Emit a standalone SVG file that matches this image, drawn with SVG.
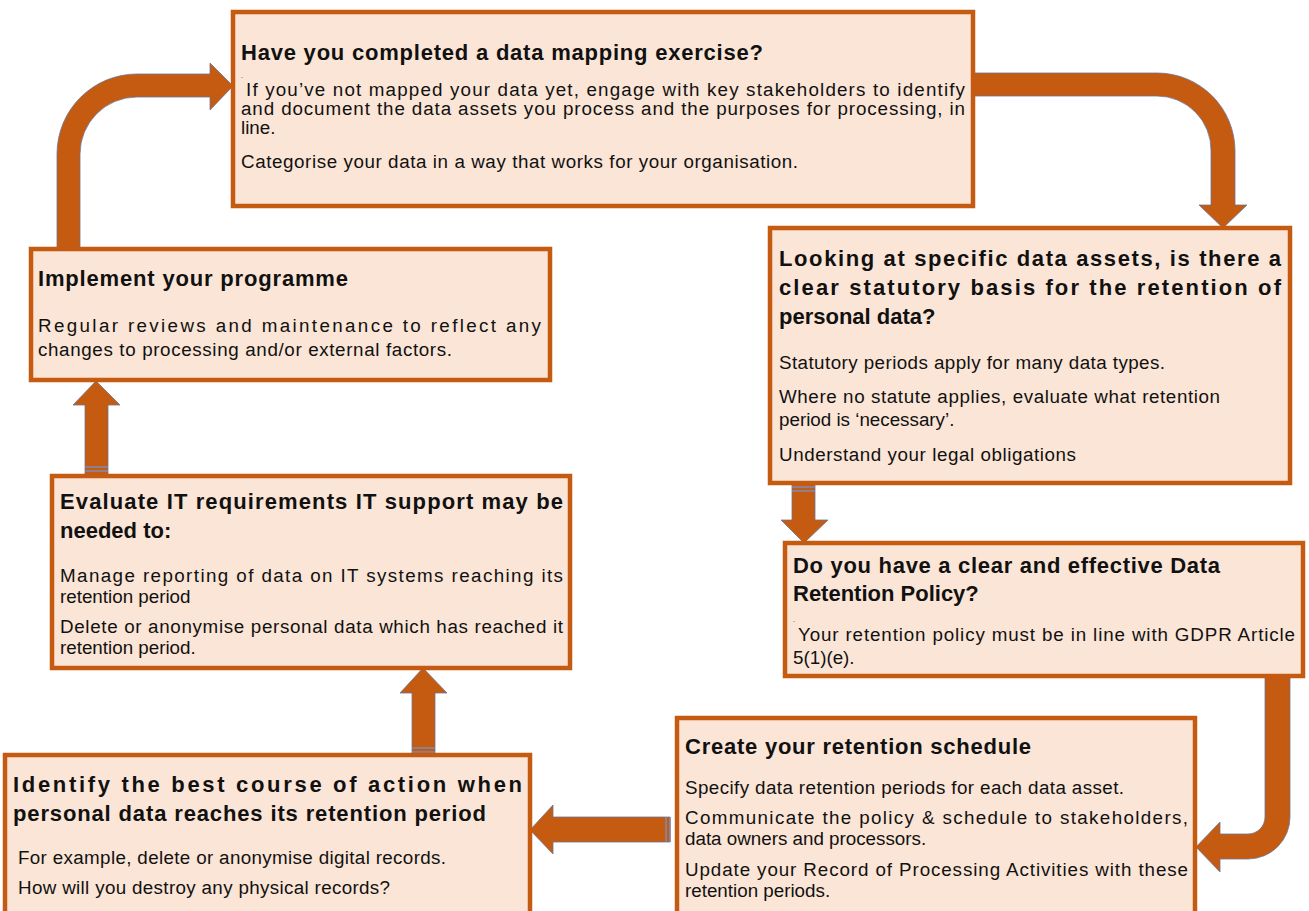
<svg xmlns="http://www.w3.org/2000/svg" width="1309" height="911" viewBox="0 0 1309 911">
<style>
.box{fill:#FBE5D6;stroke:#C55A11;stroke-width:4.5}
.arr{fill:#C55A11;stroke:#6C7394;stroke-width:0.8;stroke-linejoin:miter}
.stripe{stroke:#7F8AAE;stroke-width:1.6}
.t{font-family:"Liberation Sans",Arial,sans-serif;fill:#111}
.h{font-size:22px;font-weight:bold}
.b{font-size:18.8px}
</style>
<rect width="1309" height="911" fill="#ffffff"/>
<g id="connectors">
<path class="arr" d="M57,250 L57,154 A80,80 0 0 1 137,74 L210,74 L210,63 L233,86 L210,110 L210,97 L137,97 A57,57 0 0 0 80,154 L80,250 Z"/>
<path class="arr" d="M973,73 L1157,73 A78,78 0 0 1 1235,151 L1235,205 L1247,205 L1223,228 L1199,205 L1211,205 L1211,151 A54,54 0 0 0 1157,96 L973,96 Z"/>
<path class="arr" d="M792,483 L815,483 L815,520 L828,520 L804,543 L781,520 L792,520 Z"/>
<line class="stripe" x1="792" y1="487" x2="815" y2="487"/>
<line class="stripe" x1="792" y1="491" x2="815" y2="491"/>
<path class="arr" d="M1265,676 L1290,676 L1290,817 A42,42 0 0 1 1248,859 L1220,859 L1220,872 L1196,847 L1220,822 L1220,834 L1248,834 A17,17 0 0 0 1265,817 Z"/>
<path class="arr" d="M670,817 L670,842 L553,842 L553,854 L530,830 L553,805 L553,817 Z"/>
<line class="stripe" x1="666" y1="817" x2="666" y2="842"/>
<line class="stripe" x1="670" y1="817" x2="670" y2="842"/>
<path class="arr" d="M412,755 L435,755 L435,693 L447,693 L423,668 L400,693 L412,693 Z"/>
<line class="stripe" x1="412" y1="748" x2="435" y2="748"/>
<line class="stripe" x1="412" y1="752" x2="435" y2="752"/>
<path class="arr" d="M85,476 L108,476 L108,405 L120,405 L96,381 L73,405 L85,405 Z"/>
<line class="stripe" x1="85" y1="467" x2="108" y2="467"/>
<line class="stripe" x1="85" y1="471" x2="108" y2="471"/>
</g>
<g id="node-mapping">
<rect class="box" x="233" y="12" width="740" height="194"/>
<text class="t h" x="241" y="60" textLength="522" lengthAdjust="spacing">Have you completed a data mapping exercise?</text>
<text class="t" x="241" y="78" font-size="7">.</text>
<text class="t b" x="246" y="96" textLength="719" lengthAdjust="spacing">If you’ve not mapped your data yet, engage with key stakeholders to identify</text>
<text class="t b" x="241" y="115" textLength="724" lengthAdjust="spacing">and document the data assets you process and the purposes for processing, in</text>
<text class="t b" x="241" y="134">line.</text>
<text class="t b" x="241" y="168" textLength="557" lengthAdjust="spacing">Categorise your data in a way that works for your organisation.</text>
</g>
<g id="node-statutory">
<rect class="box" x="770" y="228" width="520" height="255"/>
<text class="t h" x="779" y="266" textLength="502" lengthAdjust="spacing">Looking at specific data assets, is there a</text>
<text class="t h" x="779" y="295" textLength="502" lengthAdjust="spacing">clear statutory basis for the retention of</text>
<text class="t h" x="779" y="324">personal data?</text>
<text class="t b" x="779" y="369" textLength="386" lengthAdjust="spacing">Statutory periods apply for many data types.</text>
<text class="t b" x="779" y="403" textLength="441" lengthAdjust="spacing">Where no statute applies, evaluate what retention</text>
<text class="t b" x="779" y="426">period is ‘necessary’.</text>
<text class="t b" x="779" y="461" textLength="297" lengthAdjust="spacing">Understand your legal obligations</text>
</g>
<g id="node-policy">
<rect class="box" x="785" y="543" width="518" height="133"/>
<text class="t h" x="793" y="573" textLength="427" lengthAdjust="spacing">Do you have a clear and effective Data</text>
<text class="t h" x="793" y="601">Retention Policy?</text>
<text class="t" x="793" y="622" font-size="7">.</text>
<text class="t b" x="798" y="641" textLength="497" lengthAdjust="spacing">Your retention policy must be in line with GDPR Article</text>
<text class="t b" x="793" y="664">5(1)(e).</text>
</g>
<g id="node-schedule">
<rect class="box" x="677" y="718" width="518" height="200"/>
<text class="t h" x="685" y="754" textLength="346" lengthAdjust="spacing">Create your retention schedule</text>
<text class="t b" x="685" y="794" textLength="439" lengthAdjust="spacing">Specify data retention periods for each data asset.</text>
<text class="t b" x="685" y="824" textLength="503" lengthAdjust="spacing">Communicate the policy &amp; schedule to stakeholders,</text>
<text class="t b" x="685" y="845">data owners and processors.</text>
<text class="t b" x="685" y="876" textLength="503" lengthAdjust="spacing">Update your Record of Processing Activities with these</text>
<text class="t b" x="685" y="897">retention periods.</text>
</g>
<g id="node-action">
<rect class="box" x="5" y="755" width="525" height="163"/>
<text class="t h" x="13" y="792" textLength="509" lengthAdjust="spacing">Identify the best course of action when</text>
<text class="t h" x="13" y="821" textLength="473" lengthAdjust="spacing">personal data reaches its retention period</text>
<text class="t b" x="18" y="864" textLength="428" lengthAdjust="spacing">For example, delete or anonymise digital records.</text>
<text class="t b" x="18" y="894" textLength="372" lengthAdjust="spacing">How will you destroy any physical records?</text>
</g>
<g id="node-it">
<rect class="box" x="52" y="476" width="518" height="192"/>
<text class="t h" x="60" y="509" textLength="503" lengthAdjust="spacing">Evaluate IT requirements IT support may be</text>
<text class="t h" x="60" y="538">needed to:</text>
<text class="t b" x="60" y="582" textLength="503" lengthAdjust="spacing">Manage reporting of data on IT systems reaching its</text>
<text class="t b" x="60" y="603">retention period</text>
<text class="t b" x="60" y="633" textLength="503" lengthAdjust="spacing">Delete or anonymise personal data which has reached it</text>
<text class="t b" x="60" y="654">retention period.</text>
</g>
<g id="node-implement">
<rect class="box" x="31" y="249" width="519" height="131"/>
<text class="t h" x="38" y="286" textLength="310" lengthAdjust="spacing">Implement your programme</text>
<text class="t b" x="38" y="332" textLength="503" lengthAdjust="spacing">Regular reviews and maintenance to reflect any</text>
<text class="t b" x="38" y="356" textLength="414" lengthAdjust="spacing">changes to processing and/or external factors.</text>
</g>
</svg>
